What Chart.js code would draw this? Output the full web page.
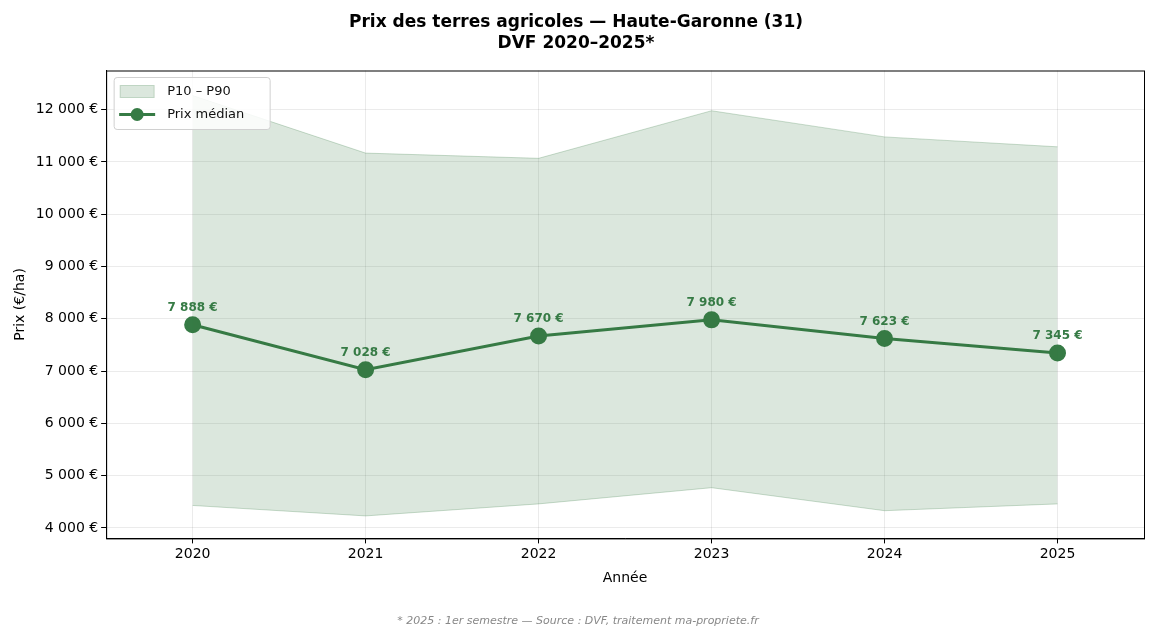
<!DOCTYPE html>
<html><head><meta charset="utf-8">
<script src="https://cdn.jsdelivr.net/npm/chart.js@4"></script>
<style>body{margin:0;background:#fff}#wrap{width:1156px;height:639px}</style>
</head><body><div id="wrap"><canvas id="c"></canvas></div>
<script>
const years = ['2020', '2021', '2022', '2023', '2024', '2025'];
const median = [7888, 7028, 7670, 7980, 7623, 7345];
const p10 = [4430, 4230, 4460, 4770, 4330, 4460];
const p90 = [12270, 11170, 11070, 11980, 11480, 11290];
const yTicks = [4000, 5000, 6000, 7000, 8000, 9000, 10000, 11000, 12000];

const green = '#367b45';
const bandFill = 'rgba(54,123,69,0.18)';
const fmt = v => Math.round(v).toLocaleString('fr-FR').replace(/\s/g, ' ') + ' €';

// Labels above the median points
const labelPlugin = {
  id: 'labels',
  afterDatasetsDraw(chart) {
    const ctx = chart.ctx;
    const meta = chart.getDatasetMeta(2);
    ctx.save();
    ctx.font = 'bold 12px "DejaVu Sans"';
    ctx.fillStyle = green;
    ctx.textAlign = 'center';
    meta.data.forEach((pt, i) => ctx.fillText(fmt(median[i]), pt.x, pt.y - 14));
    ctx.restore();
  }
};

// Legend box in the top left corner + frame around the plot
const legendPlugin = {
  id: 'legendBox',
  afterDraw(chart) {
    const ctx = chart.ctx, a = chart.chartArea;
    ctx.save();
    ctx.strokeStyle = '#000'; ctx.lineWidth = 1;
    ctx.strokeRect(a.left + 0.5, a.top + 0.5, a.right - a.left, a.bottom - a.top);
    const x = a.left + 8, y = a.top + 7;
    ctx.fillStyle = 'rgba(255,255,255,0.85)';
    ctx.strokeStyle = '#d0d0d0';
    ctx.beginPath(); ctx.roundRect(x, y, 156, 52, 3); ctx.fill(); ctx.stroke();
    ctx.fillStyle = bandFill; ctx.strokeStyle = 'rgba(54,123,69,0.25)';
    ctx.fillRect(x + 6, y + 8, 34, 12); ctx.strokeRect(x + 6, y + 8, 34, 12);
    ctx.strokeStyle = green; ctx.lineWidth = 3;
    ctx.beginPath(); ctx.moveTo(x + 5, y + 37); ctx.lineTo(x + 41, y + 37); ctx.stroke();
    ctx.fillStyle = green; ctx.beginPath(); ctx.arc(x + 23, y + 37, 6.5, 0, Math.PI * 2); ctx.fill();
    ctx.fillStyle = '#111'; ctx.font = '13px "DejaVu Sans"'; ctx.textBaseline = 'middle';
    ctx.fillText('P10 – P90', x + 53, y + 14);
    ctx.fillText('Prix médian', x + 53, y + 37);
    ctx.restore();
  }
};

new Chart(document.getElementById('c'), {
  type: 'line',
  data: {
    labels: years,
    datasets: [
      { data: p10, borderColor: 'rgba(54,123,69,0.25)', borderWidth: 1, pointRadius: 0, fill: false, tension: 0 },
      { data: p90, borderColor: 'rgba(54,123,69,0.25)', borderWidth: 1, pointRadius: 0, fill: '-1', backgroundColor: bandFill, tension: 0 },
      { data: median, borderColor: green, backgroundColor: green, borderWidth: 3, pointRadius: 7, pointHoverRadius: 7, fill: false, tension: 0 }
    ]
  },
  options: {
    responsive: true, maintainAspectRatio: false, animation: false,
    layout: { padding: { left: 8, right: 12, top: 6, bottom: 48 } },
    plugins: {
      legend: { display: false }, tooltip: { enabled: false },
      title: { display: true, text: ['Prix des terres agricoles — Haute-Garonne (31)', 'DVF 2020–2025*'],
        color: '#000', font: { family: 'DejaVu Sans', size: 17, weight: 'bold', lineHeight: 1.25 }, padding: { top: 6, bottom: 16 } }
    },
    scales: {
      x: { type: 'category', offset: true, border: { color: '#000' },
        grid: { color: 'rgba(0,0,0,0.08)', offset: false, tickColor: '#000', tickLength: 5 },
        ticks: { color: '#000', font: { family: 'DejaVu Sans', size: 14 } },
        title: { display: true, text: 'Année', color: '#000', font: { family: 'DejaVu Sans', size: 14 } } },
      y: { min: 3800, max: 12750, border: { color: '#000' },
        afterBuildTicks: s => { s.ticks = yTicks.map(v => ({ value: v })); },
        grid: { color: 'rgba(0,0,0,0.08)', tickColor: '#000', tickLength: 5 },
        ticks: { color: '#000', font: { family: 'DejaVu Sans', size: 14 }, callback: v => fmt(v) },
        title: { display: true, text: 'Prix (€/ha)', color: '#000', font: { family: 'DejaVu Sans', size: 14 } } }
    }
  },
  plugins: [labelPlugin, legendPlugin, {
    id: 'footer',
    afterDraw(chart) {
      const ctx = chart.ctx;
      ctx.save();
      ctx.font = 'italic 11px "DejaVu Sans"'; ctx.fillStyle = '#888'; ctx.textAlign = 'center';
      ctx.fillText('* 2025 : 1er semestre — Source : DVF, traitement ma-propriete.fr', 578, 624);
      ctx.restore();
    }
  }]
});
</script></body></html>
